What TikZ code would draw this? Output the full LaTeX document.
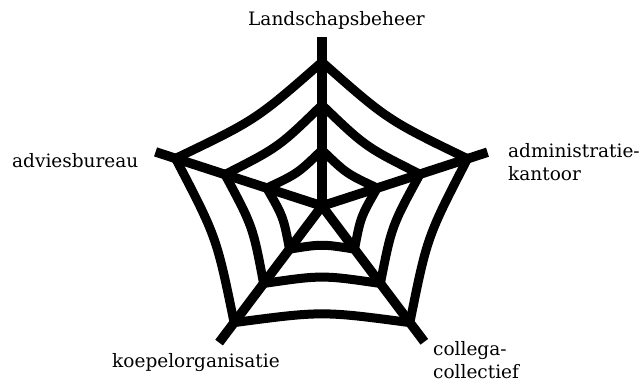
\documentclass[tikz,border=0pt]{standalone}
\usepackage{fontspec}
\setmainfont{DejaVu Serif}
\usetikzlibrary{calc}
\begin{document}
\begin{tikzpicture}[x=1pt,y=-1pt,
  spoke/.style={line width=9.5pt,line cap=butt},
  ring/.style={line width=9pt,line join=round},
  lbl/.style={font=\fontsize{18.5}{22}\selectfont,inner sep=0pt,anchor=base west}]
\useasboundingbox[fill=white] (0,0) rectangle (640,383);
\coordinate (C) at (322,206);
\foreach \i/\t/\ra/\rb/\rc/\rs in {1/-90/56/101/144/169, 2/-18/58/103/153/174, 3/53/54/97/146/170, 4/127/54/97/146/171, 5/198/58/102/154/175}{
  \coordinate (a\i) at ($(C)+(\t:\ra)$);
  \coordinate (b\i) at ($(C)+(\t:\rb)$);
  \coordinate (c\i) at ($(C)+(\t:\rc)$);
  \coordinate (s\i) at ($(C)+(\t:\rs)$);
}
\foreach \i in {1,...,5}{\draw[spoke] (C) -- (s\i);}
\foreach \n/\k in {a/0.12, b/0.11, c/0.10}{
  \draw[ring] (\n1) .. controls ($(\n1)!0.5!(\n2)!\k!(C)$) .. (\n2)
              .. controls ($(\n2)!0.5!(\n3)!\k!(C)$) .. (\n3)
              .. controls ($(\n3)!0.5!(\n4)!\k!(C)$) .. (\n4)
              .. controls ($(\n4)!0.5!(\n5)!\k!(C)$) .. (\n5)
              .. controls ($(\n5)!0.5!(\n1)!\k!(C)$) .. (\n1) -- cycle;
}
\node[lbl] (lt) at (248,25) {Landschapsbeheer};
\node[lbl] (ll) at (12,167) {adviesbureau};
\node[lbl] (lr1) at (508,157) {administratie-};
\node[lbl] (lr2) at (508,180) {kantoor};
\node[lbl] (lbl1) at (112,367) {koepelorganisatie};
\node[lbl] (lbr1) at (433,355) {collega-};
\node[lbl] (lbr2) at (433,378) {collectief};
\end{tikzpicture}
\end{document}
